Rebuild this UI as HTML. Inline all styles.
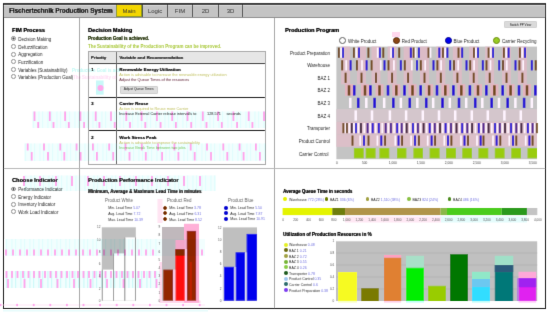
<!DOCTYPE html>
<html><head><meta charset="utf-8">
<style>
*{box-sizing:border-box;margin:0;padding:0}
html,body{width:550px;height:313px;overflow:hidden;background:#fff;font-family:"Liberation Sans",Arial,sans-serif;color:#222}
.a{position:absolute;white-space:nowrap;line-height:1}
.b{font-weight:bold}
#frame{position:absolute;left:3px;top:3px;width:543px;height:306px;border:1px solid #1a1a1a;border-top:2px solid #3a3a3a;border-bottom-width:1.4px;border-right-width:1.3px}
#hdr{position:absolute;left:4px;top:5px;width:541px;height:13px;background:#c4c4c4;border-top:1px solid #d8d8d8;border-bottom:1px solid #8e8e8e}
.tab{position:absolute;top:5px;height:12px;border-left:1px solid #444;text-align:center;font-size:6px;line-height:13.4px;color:#2a2a2a}
.vd{position:absolute;width:1px;background:#a8a8a8}
.hd{position:absolute;height:1px;background:#b8b8b8}
.h1{font-size:5.6px;font-weight:bold;color:#111;text-shadow:0.25px 0 0 currentColor}
.rad{position:absolute;width:4.8px;height:4.8px;border:0.7px solid #8a8a8a;border-radius:50%;background:#fff}
.rad i{position:absolute;left:0;top:0;width:100%;height:100%;border-radius:50%;background:radial-gradient(circle,#333 0,#333 0.85px,transparent 1.2px)}
.rt{font-size:4.5px;color:#262626}
.sb{font-size:4.45px;font-weight:bold;text-shadow:0.3px 0 0 currentColor}
.tx{font-size:3.87px}
.cell{position:absolute}
.ax{font-size:3.2px;color:#444}
.st{font-size:3.5px;color:#2a2a2a}
</style></head><body><svg width="0" height="0" style="position:absolute"><filter id="sf" x="0" y="0" width="550" height="313" filterUnits="userSpaceOnUse"><feConvolveMatrix order="3" kernelMatrix="0 1 0 1 8 1 0 1 0" divisor="12" edgeMode="duplicate"/></filter></svg><div style="position:absolute;left:0;top:0;width:550px;height:313px;filter:url(#sf)">
<div id="frame"></div>
<div id="hdr"></div>
<div class="a b" style="left:9px;top:7.5px;font-size:6.3px;color:#111;text-shadow:0.2px 0 0 #111">Fischertechnik Production System</div>
<div class="tab" style="left:116px;width:26px;background:#f3d600;border:1px solid #8a9a10;border-top:none">Main</div>
<div class="tab" style="left:142px;width:25px">Logic</div>
<div class="tab" style="left:167px;width:25px">FIM</div>
<div class="tab" style="left:192px;width:26px">2D</div>
<div class="tab" style="left:218px;width:25px;border-right:1px solid #444">3D</div>

<!-- dividers -->
<div class="vd" style="left:79px;top:18px;height:290px"></div>
<div class="vd" style="left:274px;top:18px;height:290px"></div>
<div class="hd" style="left:4px;top:168px;width:541px"></div>

<!-- FIM Process -->
<div class="a h1" style="left:12px;top:28.00px">FIM Process</div>

<div class="rad" style="left:11.20px;top:36.40px"><i></i></div><div class="a rt" style="left:18.2px;top:38px">Decision Making</div>
<div class="rad" style="left:11.20px;top:44.20px"></div><div class="a rt" style="left:18.2px;top:46px">Defuzzification</div>
<div class="rad" style="left:11.20px;top:51.90px"></div><div class="a rt" style="left:18.2px;top:53px">Aggregation</div>
<div class="rad" style="left:11.20px;top:59.40px"></div><div class="a rt" style="left:18.2px;top:61px">Fuzzification</div>
<div class="rad" style="left:11.20px;top:67.10px"></div><div class="a rt" style="left:18.2px;top:69px">Variables (Sustainability)</div>
<div class="rad" style="left:11.20px;top:74.40px"></div><div class="a rt" style="left:18.2px;top:76px">Variables (Production Goal)</div>
<div class="rad" style="left:11.20px;top:186.60px"><i></i></div><div class="a rt" style="left:18.2px;top:188px">Performance Indicator</div>
<div class="rad" style="left:11.20px;top:194.10px"></div><div class="a rt" style="left:18.2px;top:196px">Energy Indicator</div>
<div class="rad" style="left:11.20px;top:201.80px"></div><div class="a rt" style="left:18.2px;top:203px">Inventory Indicator</div>
<div class="rad" style="left:11.20px;top:209.20px"></div><div class="a rt" style="left:18.2px;top:211px">Work Load Indicator</div>
<!-- Decision making -->
<div class="a h1" style="left:88px;top:28px">Decision Making</div>
<div class="a sb" style="left:88px;top:36.6px;color:#2c3a14">Production Goal is achieved.</div>
<div class="a sb" style="left:88px;top:44.9px;color:#a8c838;text-shadow:none">The Sustainability of the Production Program can be improved.</div>
<!-- table -->
<div style="position:absolute;left:87.5px;top:51.3px;width:178.4px;height:114px;border:1px solid #a8a8a8"></div>
<div style="position:absolute;left:88.5px;top:52.3px;width:176.4px;height:10.7px;background:#e6e6e6"></div>
<div style="position:absolute;left:88.5px;top:62.8px;width:176.4px;height:1px;background:#222"></div>
<div style="position:absolute;left:88.5px;top:96.8px;width:176.4px;height:1px;background:#222"></div>
<div style="position:absolute;left:88.5px;top:130.2px;width:176.4px;height:1px;background:#222"></div>
<div style="position:absolute;left:115.8px;top:52.3px;width:0.9px;height:112px;background:#666"></div>
<div class="a sb" style="left:90.8px;top:56px;font-size:4.4px">Priority</div>
<div class="a sb" style="left:119.3px;top:56px;font-size:4.4px">Variable and Recommendation</div>
<div class="a sb" style="left:91px;top:67.60px;font-size:4.4px">1</div>
<div class="a sb" style="left:119.3px;top:67.60px;font-size:4.4px">Renewable Energy Utilization</div>
<div class="a tx" style="left:119.3px;top:73.20px;color:#c2c264">Action is advisable to increase the renewable energy utilization</div>
<div class="a tx" style="left:119.3px;top:77.9px;color:#5a1830">Adjust the Queue Times of the resources</div>
<div style="position:absolute;left:119.7px;top:86.4px;width:38px;height:7.2px;background:#dedede;border:0.6px solid #cfcfcf;border-radius:1px;font-size:3.3px;line-height:5.8px;text-align:center;color:#111">Adjust Queue Times</div>
<div class="a sb" style="left:91px;top:101.90px;font-size:4.4px">3</div>
<div class="a sb" style="left:119.3px;top:101.90px;font-size:4.4px">Carrier Reuse</div>
<div class="a tx" style="left:119.3px;top:107.2px;color:#c2c264">Action is required to Reuse more Carrier</div>
<div class="a tx" style="left:119.3px;top:112px;color:#222">Increase External Carrier release intervalls to</div>
<div class="a tx" style="left:207px;top:112.4px;color:#222">128.571</div>
<div class="a tx" style="left:226.4px;top:112.4px;color:#222">seconds</div>
<div class="a sb" style="left:91px;top:136.3px;font-size:4.4px">2</div>
<div class="a sb" style="left:119.3px;top:136.3px;font-size:4.4px">Work Stress Peak</div>
<div class="a tx" style="left:119.3px;top:141.4px;color:#c2c264">Action is advisable to improve the sustainability</div>
<div class="a tx" style="left:119.3px;top:145.8px;color:#84c860">Increase Break Time between two jobs</div>

<!-- Production program -->
<div class="a h1" style="left:285px;top:28px">Production Program</div>
<div style="position:absolute;left:504px;top:21px;width:33px;height:7px;background:#dadada;border:0.6px solid #d2d2d2;border-radius:1px;font-size:3.1px;line-height:6px;text-align:center;color:#111">Switch PP View</div>
<div style="position:absolute;left:338.9px;top:36.9px;width:7px;height:7px;border-radius:50%;border:0.8px solid #555;background:#fff"></div>
<div class="a rt" style="left:348px;top:40.3px">White Product</div>
<div style="position:absolute;left:392.5px;top:36.9px;width:7px;height:7px;border-radius:50%;border:0.8px solid #5a2a08;background:#8b4513"></div>
<div class="a rt" style="left:401.8px;top:40.3px">Red Product</div>
<div style="position:absolute;left:444.9px;top:36.9px;width:7px;height:7px;border-radius:50%;border:0.8px solid #00008b;background:#0000ee"></div>
<div class="a rt" style="left:453.6px;top:40.3px">Blue Product</div>
<div style="position:absolute;left:492.9px;top:36.9px;width:7px;height:7px;border-radius:50%;border:0.8px solid #6a8a10;background:#99cc22"></div>
<div class="a rt" style="left:502px;top:40.3px">Carrier Recycling</div>
<div class="a rt" style="right:220px;top:51.50px;text-align:right">Product Preparation</div>
<div class="a rt" style="right:220px;top:64.06px">Warehouse</div>
<div class="a rt" style="right:220px;top:76.62px">BAZ 1</div>
<div class="a rt" style="right:220px;top:89.18px">BAZ 2</div>
<div class="a rt" style="right:220px;top:101.74px">BAZ 3</div>
<div class="a rt" style="right:220px;top:115.30px">BAZ 4</div>
<div class="a rt" style="right:220px;top:126.86px">Transporter</div>
<div class="a rt" style="right:220px;top:140.42px">Product Control</div>
<div class="a rt" style="right:221.5px;top:152.98px">Carrier Control</div>
<svg style="position:absolute;left:0;top:0" width="550" height="313" viewBox="0 0 550 313">
<rect x="336.4" y="46.6" width="200.6" height="112.6" fill="#c4c4c4"/>
<rect x="336.4" y="109.2" width="200.6" height="12.56" fill="#d4c6cc"/>
<rect x="336.4" y="121.8" width="200.6" height="12.56" fill="#dcbfc8"/>
<rect x="336.4" y="134.3" width="200.6" height="12.56" fill="#dcbfc8"/>
<rect x="341.1" y="46.6" width="9" height="37.7" fill="#dcbcc6"/>
<rect x="357.0" y="46.6" width="9" height="37.7" fill="#dcbcc6"/>
<rect x="371.5" y="46.6" width="9" height="37.7" fill="#dcbcc6"/>
<rect x="387.6" y="46.6" width="9" height="37.7" fill="#dcbcc6"/>
<rect x="403.6" y="46.6" width="9" height="37.7" fill="#dcbcc6"/>
<rect x="420.0" y="46.6" width="9" height="37.7" fill="#dcbcc6"/>
<rect x="436.3" y="46.6" width="9" height="37.7" fill="#dcbcc6"/>
<rect x="452.9" y="46.6" width="9" height="37.7" fill="#dcbcc6"/>
<rect x="469.2" y="46.6" width="9" height="37.7" fill="#dcbcc6"/>
<rect x="485.2" y="46.6" width="9" height="37.7" fill="#dcbcc6"/>
<rect x="502.0" y="46.6" width="9" height="37.7" fill="#dcbcc6"/>
<rect x="517.9" y="46.6" width="9" height="37.7" fill="#dcbcc6"/>
<rect x="345.0" y="84.1" width="8" height="11.7" fill="#e4b4c0"/>
<rect x="361.0" y="84.1" width="8" height="11.7" fill="#e4b4c0"/>
<rect x="375.5" y="84.1" width="8" height="11.7" fill="#e4b4c0"/>
<rect x="392.3" y="84.1" width="8" height="11.7" fill="#e4b4c0"/>
<rect x="408.5" y="84.1" width="8" height="11.7" fill="#e4b4c0"/>
<rect x="425.1" y="84.1" width="8" height="11.7" fill="#e4b4c0"/>
<rect x="441.3" y="84.1" width="8" height="11.7" fill="#e4b4c0"/>
<rect x="457.3" y="84.1" width="8" height="11.7" fill="#e4b4c0"/>
<rect x="474.0" y="84.1" width="8" height="11.7" fill="#e4b4c0"/>
<rect x="490.4" y="84.1" width="8" height="11.7" fill="#e4b4c0"/>
<rect x="506.6" y="84.1" width="8" height="11.7" fill="#e4b4c0"/>
<rect x="523.0" y="84.1" width="8" height="11.7" fill="#e4b4c0"/>
<rect x="337.95" y="47.6" width="1.9" height="10.2" fill="#6e4616"/>
<rect x="352.95" y="47.6" width="1.9" height="10.2" fill="#6e4616"/>
<rect x="367.45" y="47.6" width="1.9" height="10.2" fill="#6e4616"/>
<rect x="382.35" y="47.6" width="1.9" height="10.2" fill="#6e4616"/>
<rect x="398.25" y="47.6" width="1.9" height="10.2" fill="#6e4616"/>
<rect x="412.75" y="47.6" width="1.9" height="10.2" fill="#6e4616"/>
<rect x="427.55" y="47.6" width="1.9" height="10.2" fill="#6e4616"/>
<rect x="442.05" y="47.6" width="1.9" height="10.2" fill="#6e4616"/>
<rect x="457.55" y="47.6" width="1.9" height="10.2" fill="#6e4616"/>
<rect x="473.05" y="47.6" width="1.9" height="10.2" fill="#6e4616"/>
<rect x="487.65" y="47.6" width="1.9" height="10.2" fill="#6e4616"/>
<rect x="502.95" y="47.6" width="1.9" height="10.2" fill="#6e4616"/>
<rect x="518.95" y="47.6" width="1.9" height="10.2" fill="#6e4616"/>
<rect x="342.05" y="47.6" width="1.9" height="10.2" fill="#1a00d4"/>
<rect x="358.05" y="47.6" width="1.9" height="10.2" fill="#1a00d4"/>
<rect x="378.85" y="47.6" width="1.9" height="10.2" fill="#1a00d4"/>
<rect x="392.05" y="47.6" width="1.9" height="10.2" fill="#1a00d4"/>
<rect x="409.85" y="47.6" width="1.9" height="10.2" fill="#1a00d4"/>
<rect x="417.95" y="47.6" width="1.9" height="10.2" fill="#1a00d4"/>
<rect x="438.35" y="47.6" width="1.9" height="10.2" fill="#1a00d4"/>
<rect x="446.45" y="47.6" width="1.9" height="10.2" fill="#1a00d4"/>
<rect x="461.25" y="47.6" width="1.9" height="10.2" fill="#1a00d4"/>
<rect x="477.05" y="47.6" width="1.9" height="10.2" fill="#1a00d4"/>
<rect x="492.05" y="47.6" width="1.9" height="10.2" fill="#1a00d4"/>
<rect x="507.65" y="47.6" width="1.9" height="10.2" fill="#1a00d4"/>
<rect x="524.05" y="47.6" width="1.9" height="10.2" fill="#1a00d4"/>
<rect x="340.15" y="47.6" width="1.7" height="10.2" fill="#fff4ff"/>
<rect x="355.45" y="47.6" width="1.7" height="10.2" fill="#fff4ff"/>
<rect x="376.85" y="47.6" width="1.7" height="10.2" fill="#fff4ff"/>
<rect x="390.15" y="47.6" width="1.7" height="10.2" fill="#fff4ff"/>
<rect x="414.75" y="47.6" width="1.7" height="10.2" fill="#fff4ff"/>
<rect x="429.65" y="47.6" width="1.7" height="10.2" fill="#fff4ff"/>
<rect x="444.35" y="47.6" width="1.7" height="10.2" fill="#fff4ff"/>
<rect x="475.05" y="47.6" width="1.7" height="10.2" fill="#fff4ff"/>
<rect x="489.85" y="47.6" width="1.7" height="10.2" fill="#fff4ff"/>
<rect x="505.35" y="47.6" width="1.7" height="10.2" fill="#fff4ff"/>
<rect x="521.35" y="47.6" width="1.7" height="10.2" fill="#fff4ff"/>
<rect x="341.25" y="60.2" width="1.9" height="10.2" fill="#6e4616"/>
<rect x="355.95" y="60.2" width="1.9" height="10.2" fill="#6e4616"/>
<rect x="370.65" y="60.2" width="1.9" height="10.2" fill="#6e4616"/>
<rect x="387.55" y="60.2" width="1.9" height="10.2" fill="#6e4616"/>
<rect x="403.85" y="60.2" width="1.9" height="10.2" fill="#6e4616"/>
<rect x="419.85" y="60.2" width="1.9" height="10.2" fill="#6e4616"/>
<rect x="436.45" y="60.2" width="1.9" height="10.2" fill="#6e4616"/>
<rect x="453.05" y="60.2" width="1.9" height="10.2" fill="#6e4616"/>
<rect x="469.25" y="60.2" width="1.9" height="10.2" fill="#6e4616"/>
<rect x="485.55" y="60.2" width="1.9" height="10.2" fill="#6e4616"/>
<rect x="502.05" y="60.2" width="1.9" height="10.2" fill="#6e4616"/>
<rect x="518.45" y="60.2" width="1.9" height="10.2" fill="#6e4616"/>
<rect x="534.75" y="60.2" width="1.9" height="10.2" fill="#6e4616"/>
<rect x="345.35" y="60.2" width="1.7" height="10.2" fill="#fff4ff"/>
<rect x="361.15" y="60.2" width="1.7" height="10.2" fill="#fff4ff"/>
<rect x="379.95" y="60.2" width="1.7" height="10.2" fill="#fff4ff"/>
<rect x="393.05" y="60.2" width="1.7" height="10.2" fill="#fff4ff"/>
<rect x="410.95" y="60.2" width="1.7" height="10.2" fill="#fff4ff"/>
<rect x="424.35" y="60.2" width="1.7" height="10.2" fill="#fff4ff"/>
<rect x="440.25" y="60.2" width="1.7" height="10.2" fill="#fff4ff"/>
<rect x="457.35" y="60.2" width="1.7" height="10.2" fill="#fff4ff"/>
<rect x="473.25" y="60.2" width="1.7" height="10.2" fill="#fff4ff"/>
<rect x="489.65" y="60.2" width="1.7" height="10.2" fill="#fff4ff"/>
<rect x="505.95" y="60.2" width="1.7" height="10.2" fill="#fff4ff"/>
<rect x="522.35" y="60.2" width="1.7" height="10.2" fill="#fff4ff"/>
<rect x="349.65" y="60.2" width="1.9" height="10.2" fill="#1a00d4"/>
<rect x="365.65" y="60.2" width="1.9" height="10.2" fill="#1a00d4"/>
<rect x="383.55" y="60.2" width="1.9" height="10.2" fill="#1a00d4"/>
<rect x="399.85" y="60.2" width="1.9" height="10.2" fill="#1a00d4"/>
<rect x="416.05" y="60.2" width="1.9" height="10.2" fill="#1a00d4"/>
<rect x="432.55" y="60.2" width="1.9" height="10.2" fill="#1a00d4"/>
<rect x="449.25" y="60.2" width="1.9" height="10.2" fill="#1a00d4"/>
<rect x="465.55" y="60.2" width="1.9" height="10.2" fill="#1a00d4"/>
<rect x="481.85" y="60.2" width="1.9" height="10.2" fill="#1a00d4"/>
<rect x="498.25" y="60.2" width="1.9" height="10.2" fill="#1a00d4"/>
<rect x="514.55" y="60.2" width="1.9" height="10.2" fill="#1a00d4"/>
<rect x="530.85" y="60.2" width="1.9" height="10.2" fill="#1a00d4"/>
<rect x="344.65" y="72.7" width="1.9" height="10.2" fill="#6e4616"/>
<rect x="360.55" y="72.7" width="1.9" height="10.2" fill="#6e4616"/>
<rect x="375.05" y="72.7" width="1.9" height="10.2" fill="#6e4616"/>
<rect x="391.15" y="72.7" width="1.9" height="10.2" fill="#6e4616"/>
<rect x="407.15" y="72.7" width="1.9" height="10.2" fill="#6e4616"/>
<rect x="423.55" y="72.7" width="1.9" height="10.2" fill="#6e4616"/>
<rect x="439.85" y="72.7" width="1.9" height="10.2" fill="#6e4616"/>
<rect x="456.45" y="72.7" width="1.9" height="10.2" fill="#6e4616"/>
<rect x="472.75" y="72.7" width="1.9" height="10.2" fill="#6e4616"/>
<rect x="488.75" y="72.7" width="1.9" height="10.2" fill="#6e4616"/>
<rect x="505.55" y="72.7" width="1.9" height="10.2" fill="#6e4616"/>
<rect x="521.45" y="72.7" width="1.9" height="10.2" fill="#6e4616"/>
<rect x="347.75" y="85.3" width="2.5" height="10.2" fill="#6e4616"/>
<rect x="363.75" y="85.3" width="2.5" height="10.2" fill="#6e4616"/>
<rect x="378.25" y="85.3" width="2.5" height="10.2" fill="#6e4616"/>
<rect x="395.05" y="85.3" width="2.5" height="10.2" fill="#6e4616"/>
<rect x="411.25" y="85.3" width="2.5" height="10.2" fill="#6e4616"/>
<rect x="427.85" y="85.3" width="2.5" height="10.2" fill="#6e4616"/>
<rect x="444.05" y="85.3" width="2.5" height="10.2" fill="#6e4616"/>
<rect x="460.05" y="85.3" width="2.5" height="10.2" fill="#6e4616"/>
<rect x="476.75" y="85.3" width="2.5" height="10.2" fill="#6e4616"/>
<rect x="493.15" y="85.3" width="2.5" height="10.2" fill="#6e4616"/>
<rect x="509.35" y="85.3" width="2.5" height="10.2" fill="#6e4616"/>
<rect x="525.75" y="85.3" width="2.5" height="10.2" fill="#6e4616"/>
<rect x="352.95" y="85.3" width="2.5" height="10.2" fill="#1a00d4"/>
<rect x="369.15" y="85.3" width="2.5" height="10.2" fill="#1a00d4"/>
<rect x="386.75" y="85.3" width="2.5" height="10.2" fill="#1a00d4"/>
<rect x="403.25" y="85.3" width="2.5" height="10.2" fill="#1a00d4"/>
<rect x="419.45" y="85.3" width="2.5" height="10.2" fill="#1a00d4"/>
<rect x="435.75" y="85.3" width="2.5" height="10.2" fill="#1a00d4"/>
<rect x="452.15" y="85.3" width="2.5" height="10.2" fill="#1a00d4"/>
<rect x="468.65" y="85.3" width="2.5" height="10.2" fill="#1a00d4"/>
<rect x="485.05" y="85.3" width="2.5" height="10.2" fill="#1a00d4"/>
<rect x="501.45" y="85.3" width="2.5" height="10.2" fill="#1a00d4"/>
<rect x="517.75" y="85.3" width="2.5" height="10.2" fill="#1a00d4"/>
<rect x="534.05" y="85.3" width="2.5" height="10.2" fill="#1a00d4"/>
<rect x="349.05" y="97.8" width="2.5" height="10.2" fill="#fff4ff"/>
<rect x="365.05" y="97.8" width="2.5" height="10.2" fill="#fff4ff"/>
<rect x="382.95" y="97.8" width="2.5" height="10.2" fill="#fff4ff"/>
<rect x="399.65" y="97.8" width="2.5" height="10.2" fill="#fff4ff"/>
<rect x="416.05" y="97.8" width="2.5" height="10.2" fill="#fff4ff"/>
<rect x="431.95" y="97.8" width="2.5" height="10.2" fill="#fff4ff"/>
<rect x="448.55" y="97.8" width="2.5" height="10.2" fill="#fff4ff"/>
<rect x="464.95" y="97.8" width="2.5" height="10.2" fill="#fff4ff"/>
<rect x="481.05" y="97.8" width="2.5" height="10.2" fill="#fff4ff"/>
<rect x="497.75" y="97.8" width="2.5" height="10.2" fill="#fff4ff"/>
<rect x="514.15" y="97.8" width="2.5" height="10.2" fill="#fff4ff"/>
<rect x="530.55" y="97.8" width="2.5" height="10.2" fill="#fff4ff"/>
<rect x="356.95" y="97.8" width="2.5" height="10.2" fill="#1a00d4"/>
<rect x="373.35" y="97.8" width="2.5" height="10.2" fill="#1a00d4"/>
<rect x="392.05" y="97.8" width="2.5" height="10.2" fill="#1a00d4"/>
<rect x="408.55" y="97.8" width="2.5" height="10.2" fill="#1a00d4"/>
<rect x="424.95" y="97.8" width="2.5" height="10.2" fill="#1a00d4"/>
<rect x="441.25" y="97.8" width="2.5" height="10.2" fill="#1a00d4"/>
<rect x="457.75" y="97.8" width="2.5" height="10.2" fill="#1a00d4"/>
<rect x="473.95" y="97.8" width="2.5" height="10.2" fill="#1a00d4"/>
<rect x="490.45" y="97.8" width="2.5" height="10.2" fill="#1a00d4"/>
<rect x="506.45" y="97.8" width="2.5" height="10.2" fill="#1a00d4"/>
<rect x="522.85" y="97.8" width="2.5" height="10.2" fill="#1a00d4"/>
<rect x="354.45" y="110.4" width="2.5" height="10.2" fill="#fff4ff"/>
<rect x="370.75" y="110.4" width="2.5" height="10.2" fill="#fff4ff"/>
<rect x="388.65" y="110.4" width="2.5" height="10.2" fill="#fff4ff"/>
<rect x="404.85" y="110.4" width="2.5" height="10.2" fill="#fff4ff"/>
<rect x="421.55" y="110.4" width="2.5" height="10.2" fill="#fff4ff"/>
<rect x="437.75" y="110.4" width="2.5" height="10.2" fill="#fff4ff"/>
<rect x="453.95" y="110.4" width="2.5" height="10.2" fill="#fff4ff"/>
<rect x="470.55" y="110.4" width="2.5" height="10.2" fill="#fff4ff"/>
<rect x="486.55" y="110.4" width="2.5" height="10.2" fill="#fff4ff"/>
<rect x="503.15" y="110.4" width="2.5" height="10.2" fill="#fff4ff"/>
<rect x="519.55" y="110.4" width="2.5" height="10.2" fill="#fff4ff"/>
<rect x="344.30" y="123.0" width="1.7" height="10.2" fill="#fff4ff"/>
<rect x="348.50" y="123.0" width="1.7" height="10.2" fill="#fff4ff"/>
<rect x="353.05" y="123.0" width="1.7" height="10.2" fill="#fff4ff"/>
<rect x="357.60" y="123.0" width="1.7" height="10.2" fill="#fff4ff"/>
<rect x="363.40" y="123.0" width="1.7" height="10.2" fill="#fff4ff"/>
<rect x="369.30" y="123.0" width="1.7" height="10.2" fill="#fff4ff"/>
<rect x="374.90" y="123.0" width="1.7" height="10.2" fill="#fff4ff"/>
<rect x="381.40" y="123.0" width="1.7" height="10.2" fill="#fff4ff"/>
<rect x="387.45" y="123.0" width="1.7" height="10.2" fill="#fff4ff"/>
<rect x="393.20" y="123.0" width="1.7" height="10.2" fill="#fff4ff"/>
<rect x="398.60" y="123.0" width="1.7" height="10.2" fill="#fff4ff"/>
<rect x="403.35" y="123.0" width="1.7" height="10.2" fill="#fff4ff"/>
<rect x="409.00" y="123.0" width="1.7" height="10.2" fill="#fff4ff"/>
<rect x="414.60" y="123.0" width="1.7" height="10.2" fill="#fff4ff"/>
<rect x="419.90" y="123.0" width="1.7" height="10.2" fill="#fff4ff"/>
<rect x="425.80" y="123.0" width="1.7" height="10.2" fill="#fff4ff"/>
<rect x="431.40" y="123.0" width="1.7" height="10.2" fill="#fff4ff"/>
<rect x="436.55" y="123.0" width="1.7" height="10.2" fill="#fff4ff"/>
<rect x="441.95" y="123.0" width="1.7" height="10.2" fill="#fff4ff"/>
<rect x="447.45" y="123.0" width="1.7" height="10.2" fill="#fff4ff"/>
<rect x="452.90" y="123.0" width="1.7" height="10.2" fill="#fff4ff"/>
<rect x="458.50" y="123.0" width="1.7" height="10.2" fill="#fff4ff"/>
<rect x="463.90" y="123.0" width="1.7" height="10.2" fill="#fff4ff"/>
<rect x="468.85" y="123.0" width="1.7" height="10.2" fill="#fff4ff"/>
<rect x="474.60" y="123.0" width="1.7" height="10.2" fill="#fff4ff"/>
<rect x="480.30" y="123.0" width="1.7" height="10.2" fill="#fff4ff"/>
<rect x="485.20" y="123.0" width="1.7" height="10.2" fill="#fff4ff"/>
<rect x="491.00" y="123.0" width="1.7" height="10.2" fill="#fff4ff"/>
<rect x="496.60" y="123.0" width="1.7" height="10.2" fill="#fff4ff"/>
<rect x="501.55" y="123.0" width="1.7" height="10.2" fill="#fff4ff"/>
<rect x="507.20" y="123.0" width="1.7" height="10.2" fill="#fff4ff"/>
<rect x="512.85" y="123.0" width="1.7" height="10.2" fill="#fff4ff"/>
<rect x="518.00" y="123.0" width="1.7" height="10.2" fill="#fff4ff"/>
<rect x="523.80" y="123.0" width="1.7" height="10.2" fill="#fff4ff"/>
<rect x="529.40" y="123.0" width="1.7" height="10.2" fill="#fff4ff"/>
<rect x="533.85" y="123.0" width="1.7" height="10.2" fill="#fff4ff"/>
<rect x="342.45" y="123.0" width="1.9" height="10.2" fill="#6e4616"/>
<rect x="345.95" y="123.0" width="1.9" height="10.2" fill="#6e4616"/>
<rect x="350.85" y="123.0" width="1.9" height="10.2" fill="#3c1c3c"/>
<rect x="355.05" y="123.0" width="1.9" height="10.2" fill="#1a00d4"/>
<rect x="359.95" y="123.0" width="1.9" height="10.2" fill="#3c1c3c"/>
<rect x="366.65" y="123.0" width="1.9" height="10.2" fill="#4a1890"/>
<rect x="371.75" y="123.0" width="1.9" height="10.2" fill="#1a00d4"/>
<rect x="377.85" y="123.0" width="1.9" height="10.2" fill="#1a00d4"/>
<rect x="384.75" y="123.0" width="1.9" height="10.2" fill="#4a1890"/>
<rect x="389.95" y="123.0" width="1.9" height="10.2" fill="#4a1890"/>
<rect x="396.25" y="123.0" width="1.9" height="10.2" fill="#1a00d4"/>
<rect x="400.75" y="123.0" width="1.9" height="10.2" fill="#4a1890"/>
<rect x="405.75" y="123.0" width="1.9" height="10.2" fill="#3c1c3c"/>
<rect x="412.05" y="123.0" width="1.9" height="10.2" fill="#1a00d4"/>
<rect x="416.95" y="123.0" width="1.9" height="10.2" fill="#4a1890"/>
<rect x="422.65" y="123.0" width="1.9" height="10.2" fill="#3c1c3c"/>
<rect x="428.75" y="123.0" width="1.9" height="10.2" fill="#1a00d4"/>
<rect x="433.85" y="123.0" width="1.9" height="10.2" fill="#4a1890"/>
<rect x="439.05" y="123.0" width="1.9" height="10.2" fill="#3c1c3c"/>
<rect x="444.65" y="123.0" width="1.9" height="10.2" fill="#1a00d4"/>
<rect x="450.05" y="123.0" width="1.9" height="10.2" fill="#4a1890"/>
<rect x="455.55" y="123.0" width="1.9" height="10.2" fill="#3c1c3c"/>
<rect x="461.25" y="123.0" width="1.9" height="10.2" fill="#1a00d4"/>
<rect x="466.35" y="123.0" width="1.9" height="10.2" fill="#4a1890"/>
<rect x="471.15" y="123.0" width="1.9" height="10.2" fill="#3c1c3c"/>
<rect x="477.85" y="123.0" width="1.9" height="10.2" fill="#1a00d4"/>
<rect x="482.55" y="123.0" width="1.9" height="10.2" fill="#4a1890"/>
<rect x="487.65" y="123.0" width="1.9" height="10.2" fill="#3c1c3c"/>
<rect x="494.15" y="123.0" width="1.9" height="10.2" fill="#1a00d4"/>
<rect x="498.85" y="123.0" width="1.9" height="10.2" fill="#4a1890"/>
<rect x="504.05" y="123.0" width="1.9" height="10.2" fill="#3c1c3c"/>
<rect x="510.15" y="123.0" width="1.9" height="10.2" fill="#1a00d4"/>
<rect x="515.35" y="123.0" width="1.9" height="10.2" fill="#4a1890"/>
<rect x="520.45" y="123.0" width="1.9" height="10.2" fill="#3c1c3c"/>
<rect x="526.95" y="123.0" width="1.9" height="10.2" fill="#1a00d4"/>
<rect x="531.65" y="123.0" width="1.9" height="10.2" fill="#4a1890"/>
<rect x="535.85" y="123.0" width="1.9" height="10.2" fill="#6e4616"/>
<rect x="351.55" y="135.5" width="1.9" height="10.2" fill="#6e4616"/>
<rect x="367.55" y="135.5" width="1.9" height="10.2" fill="#6e4616"/>
<rect x="384.15" y="135.5" width="1.9" height="10.2" fill="#6e4616"/>
<rect x="401.15" y="135.5" width="1.9" height="10.2" fill="#6e4616"/>
<rect x="417.95" y="135.5" width="1.9" height="10.2" fill="#6e4616"/>
<rect x="434.15" y="135.5" width="1.9" height="10.2" fill="#6e4616"/>
<rect x="450.45" y="135.5" width="1.9" height="10.2" fill="#6e4616"/>
<rect x="467.05" y="135.5" width="1.9" height="10.2" fill="#6e4616"/>
<rect x="482.55" y="135.5" width="1.9" height="10.2" fill="#6e4616"/>
<rect x="499.35" y="135.5" width="1.9" height="10.2" fill="#6e4616"/>
<rect x="515.35" y="135.5" width="1.9" height="10.2" fill="#6e4616"/>
<rect x="531.65" y="135.5" width="1.9" height="10.2" fill="#6e4616"/>
<rect x="359.35" y="135.5" width="1.7" height="10.2" fill="#fff4ff"/>
<rect x="376.55" y="135.5" width="1.7" height="10.2" fill="#fff4ff"/>
<rect x="394.45" y="135.5" width="1.7" height="10.2" fill="#fff4ff"/>
<rect x="410.25" y="135.5" width="1.7" height="10.2" fill="#fff4ff"/>
<rect x="426.85" y="135.5" width="1.7" height="10.2" fill="#fff4ff"/>
<rect x="443.45" y="135.5" width="1.7" height="10.2" fill="#fff4ff"/>
<rect x="460.15" y="135.5" width="1.7" height="10.2" fill="#fff4ff"/>
<rect x="476.15" y="135.5" width="1.7" height="10.2" fill="#fff4ff"/>
<rect x="492.15" y="135.5" width="1.7" height="10.2" fill="#fff4ff"/>
<rect x="508.45" y="135.5" width="1.7" height="10.2" fill="#fff4ff"/>
<rect x="524.85" y="135.5" width="1.7" height="10.2" fill="#fff4ff"/>
<rect x="363.05" y="135.5" width="1.9" height="10.2" fill="#1a00d4"/>
<rect x="380.35" y="135.5" width="1.9" height="10.2" fill="#1a00d4"/>
<rect x="397.55" y="135.5" width="1.9" height="10.2" fill="#1a00d4"/>
<rect x="414.05" y="135.5" width="1.9" height="10.2" fill="#1a00d4"/>
<rect x="430.65" y="135.5" width="1.9" height="10.2" fill="#1a00d4"/>
<rect x="447.05" y="135.5" width="1.9" height="10.2" fill="#1a00d4"/>
<rect x="463.55" y="135.5" width="1.9" height="10.2" fill="#1a00d4"/>
<rect x="479.65" y="135.5" width="1.9" height="10.2" fill="#1a00d4"/>
<rect x="495.65" y="135.5" width="1.9" height="10.2" fill="#1a00d4"/>
<rect x="512.05" y="135.5" width="1.9" height="10.2" fill="#1a00d4"/>
<rect x="528.45" y="135.5" width="1.9" height="10.2" fill="#1a00d4"/>
<rect x="353.9" y="148.1" width="9.8" height="10.2" fill="#99cc11"/>
<rect x="365.7" y="148.1" width="9.9" height="10.2" fill="#99cc11"/>
<rect x="379.4" y="148.1" width="9.9" height="10.2" fill="#99cc11"/>
<rect x="397.0" y="148.1" width="9.4" height="10.2" fill="#99cc11"/>
<rect x="413.4" y="148.1" width="9.6" height="10.2" fill="#99cc11"/>
<rect x="429.6" y="148.1" width="10.0" height="10.2" fill="#99cc11"/>
<rect x="446.0" y="148.1" width="10.0" height="10.2" fill="#99cc11"/>
<rect x="462.3" y="148.1" width="9.7" height="10.2" fill="#99cc11"/>
<rect x="478.4" y="148.1" width="9.9" height="10.2" fill="#99cc11"/>
<rect x="494.8" y="148.1" width="9.8" height="10.2" fill="#99cc11"/>
<rect x="511.3" y="148.1" width="9.7" height="10.2" fill="#99cc11"/>
<rect x="527.5" y="148.1" width="9.5" height="10.2" fill="#99cc11"/>
</svg>
<div class="a ax" style="left:336px;top:162px">0</div>
<div class="a ax" style="left:361.9px;top:162px">500</div>
<div class="a ax" style="left:388.8px;top:162px">1,000</div>
<div class="a ax" style="left:416.8px;top:162px">1,500</div>
<div class="a ax" style="left:444.8px;top:162px">2,000</div>
<div class="a ax" style="left:472.8px;top:162px">2,500</div>
<div class="a ax" style="left:500.8px;top:162px">3,000</div>
<div class="a ax" style="left:528.8px;top:162px">3,500</div>

<!-- Choose Indicator -->
<div class="a h1" style="left:12px;top:177.5px">Choose Indicator</div>

<div class="a h1" style="left:88px;top:177.5px">Production Performance Indicator</div>
<div class="a h1" style="left:283px;top:190.00px;font-size:4.5px">Average Queue Time in seconds</div>
<div class="a h1" style="left:283px;top:233.00px;font-size:4.6px">Utilization of Production Resources in %</div>
<div class="a sb" style="left:88px;top:189.6px;font-size:4.5px">Minimum, Average &amp; Maximum Lead Time in minutes</div>
<div class="a" style="left:105px;top:199px;font-size:4.45px;color:#666">Product White</div>
<div class="a" style="left:166.9px;top:199px;font-size:4.45px;color:#666">Product Red</div>
<div class="a" style="left:228px;top:199px;font-size:4.45px;color:#666">Product Blue</div>
<div class="a st" style="left:108.3px;top:207.4px">Min. Lead Time <span style="color:#7070e0">5.07</span></div>
<div class="a st" style="left:108.3px;top:213.1px">Avg. Lead Time <span style="color:#7070e0">7.72</span></div>
<div class="a st" style="left:108.3px;top:218.6px">Max. Lead Time <span style="color:#7070e0">10.39</span></div>
<div class="a st" style="left:169.2px;top:207.1px">Min. Lead Time <span style="color:#7070e0">3.78</span></div>
<div class="a st" style="left:169.2px;top:212.9px">Avg. Lead Time <span style="color:#7070e0">6.31</span></div>
<div class="a st" style="left:169.2px;top:218.9px">Max. Lead Time <span style="color:#7070e0">8.52</span></div>
<div class="a st" style="left:230.3px;top:207.3px">Min. Lead Time <span style="color:#7070e0">5.50</span></div>
<div class="a st" style="left:230.3px;top:212.8px">Avg. Lead Time <span style="color:#7070e0">7.87</span></div>
<div class="a st" style="left:230.3px;top:218.2px">Max. Lead Time <span style="color:#7070e0">10.91</span></div>
<div style="position:absolute;left:163.3px;top:205.5px;width:4.2px;height:4.2px;border-radius:50%;background:#5a2000;border:0.6px solid #94400e"></div>
<div style="position:absolute;left:163.3px;top:211.3px;width:4.2px;height:4.2px;border-radius:50%;background:#5a2000;border:0.6px solid #94400e"></div>
<div style="position:absolute;left:163.3px;top:217.3px;width:4.2px;height:4.2px;border-radius:50%;background:#5a2000;border:0.6px solid #94400e"></div>
<div style="position:absolute;left:224.3px;top:205.8px;width:4.1px;height:4.1px;border-radius:50%;background:#0000d0"></div>
<div style="position:absolute;left:224.3px;top:211.2px;width:4.1px;height:4.1px;border-radius:50%;background:#0000d0"></div>
<div style="position:absolute;left:224.3px;top:216.6px;width:4.1px;height:4.1px;border-radius:50%;background:#0000d0"></div>
<svg style="position:absolute;left:0;top:0" width="550" height="313">
<rect x="157.5" y="199" width="5" height="24" fill="#ffe4f2"/>
<rect x="101.8" y="227.3" width="34.00" height="73.40" fill="#bfbfbf"/>
<text x="100.5" y="228.40" font-size="3.1" fill="#555" text-anchor="end">12</text>
<text x="100.5" y="240.63" font-size="3.1" fill="#555" text-anchor="end">10</text>
<text x="100.5" y="252.87" font-size="3.1" fill="#555" text-anchor="end">8</text>
<text x="100.5" y="265.10" font-size="3.1" fill="#555" text-anchor="end">6</text>
<text x="100.5" y="277.33" font-size="3.1" fill="#555" text-anchor="end">4</text>
<text x="100.5" y="289.57" font-size="3.1" fill="#555" text-anchor="end">2</text>
<text x="100.5" y="301.80" font-size="3.1" fill="#555" text-anchor="end">0</text>
<rect x="102.3" y="269.6" width="11.30" height="31.10" fill="#fff"/>
<rect x="101.85" y="269.6" width="0.9" height="31.10" fill="#959595"/>
<rect x="113.15" y="269.6" width="0.9" height="31.10" fill="#959595"/>
<rect x="113.6" y="253.4" width="11.30" height="47.30" fill="#fff"/>
<rect x="113.15" y="253.4" width="0.9" height="47.30" fill="#959595"/>
<rect x="124.45" y="253.4" width="0.9" height="47.30" fill="#959595"/>
<rect x="124.9" y="237.4" width="10.50" height="63.30" fill="#fff"/>
<rect x="124.45" y="237.4" width="0.9" height="63.30" fill="#959595"/>
<rect x="134.95" y="237.4" width="0.9" height="63.30" fill="#959595"/>
<rect x="159.5" y="262" width="3" height="41" fill="#ffd8ec"/>
<rect x="159.5" y="300.5" width="41" height="2.5" fill="#ffd8ec"/>
<rect x="162" y="227" width="22.5" height="73.7" fill="#c0b8bc"/>
<rect x="184" y="223.8" width="15" height="79" fill="#ffb0d8"/>
<rect x="175.5" y="240" width="9" height="10" fill="#ffa8cc"/>
<text x="160.3" y="228.20" font-size="3.1" fill="#555" text-anchor="end">9</text>
<text x="160.3" y="236.38" font-size="3.1" fill="#555" text-anchor="end">8</text>
<text x="160.3" y="244.56" font-size="3.1" fill="#555" text-anchor="end">7</text>
<text x="160.3" y="252.73" font-size="3.1" fill="#555" text-anchor="end">6</text>
<text x="160.3" y="260.91" font-size="3.1" fill="#555" text-anchor="end">5</text>
<text x="160.3" y="269.09" font-size="3.1" fill="#555" text-anchor="end">4</text>
<text x="160.3" y="277.27" font-size="3.1" fill="#555" text-anchor="end">3</text>
<text x="160.3" y="285.44" font-size="3.1" fill="#555" text-anchor="end">2</text>
<text x="160.3" y="293.62" font-size="3.1" fill="#555" text-anchor="end">1</text>
<text x="160.3" y="301.80" font-size="3.1" fill="#555" text-anchor="end">0</text>
<rect x="163.3" y="269.6" width="9.8" height="31.1" fill="#922800"/>
<rect x="175.4" y="249.1" width="9.4" height="51.6" fill="#ff0808"/>
<rect x="175.4" y="249.1" width="9.4" height="6.5" fill="#8a2a00"/>
<rect x="186.8" y="230.9" width="9.3" height="69.8" fill="#962800"/>
<rect x="189.8" y="262" width="2" height="38" fill="#c02000"/>
<rect x="222.9" y="227.4" width="34.10" height="73.30" fill="#bfbfbf"/>
<text x="221.5" y="228.50" font-size="3.1" fill="#555" text-anchor="end">12</text>
<text x="221.5" y="240.72" font-size="3.1" fill="#555" text-anchor="end">10</text>
<text x="221.5" y="252.93" font-size="3.1" fill="#555" text-anchor="end">8</text>
<text x="221.5" y="265.15" font-size="3.1" fill="#555" text-anchor="end">6</text>
<text x="221.5" y="277.37" font-size="3.1" fill="#555" text-anchor="end">4</text>
<text x="221.5" y="289.58" font-size="3.1" fill="#555" text-anchor="end">2</text>
<text x="221.5" y="301.80" font-size="3.1" fill="#555" text-anchor="end">0</text>
<rect x="223.8" y="266.8" width="10.50" height="33.90" fill="#0000ee"/>
<rect x="235.6" y="252.3" width="9.50" height="48.40" fill="#0000ee"/>
<rect x="246.6" y="233.9" width="10.20" height="66.80" fill="#0000ee"/>
<rect x="234.3" y="266.8" width="1.30" height="33.90" fill="#dcdcf4"/>
<rect x="245.1" y="252.3" width="1.50" height="48.40" fill="#dcdcf4"/>
<rect x="222.9" y="266.8" width="0.9" height="33.9" fill="#d0d0e8"/>
<rect x="173.1" y="269.6" width="2.30" height="31.10" fill="#ffc8e4"/>
<rect x="184.8" y="249.1" width="2.00" height="51.60" fill="#ffc8e4"/>
</svg>
<div style="position:absolute;left:283.1px;top:197.1px;width:3.8px;height:3.8px;border-radius:50%;background:#e4f000"></div>
<div class="a st" style="left:289px;top:198.8px">Warehouse <span style="color:#7070e0">772 (28%)</span></div>
<div style="position:absolute;left:324.5px;top:197.1px;width:3.8px;height:3.8px;border-radius:50%;background:#6a7a00"></div>
<div class="a st" style="left:330px;top:198.8px">BAZ1 <span style="color:#7070e0">336 (6%)</span></div>
<div style="position:absolute;left:365.5px;top:197.1px;width:3.8px;height:3.8px;border-radius:50%;background:#a0a040"></div>
<div class="a st" style="left:371px;top:198.8px">BAZ2 <span style="color:#7070e0">1,510 (38%)</span></div>
<div style="position:absolute;left:406.9px;top:197.1px;width:3.8px;height:3.8px;border-radius:50%;background:#88c040"></div>
<div class="a st" style="left:412.4px;top:198.8px">BAZ3 <span style="color:#7070e0">824 (24%)</span></div>
<div style="position:absolute;left:447.6px;top:197.1px;width:3.8px;height:3.8px;border-radius:50%;background:#4a8a1a"></div>
<div class="a st" style="left:453.1px;top:198.8px">BAZ4 <span style="color:#7070e0">486 (16%)</span></div>
<svg style="position:absolute;left:0;top:0" width="550" height="313">
<rect x="282.6" y="208" width="49.70" height="7.1" fill="#e4f400"/>
<rect x="332.3" y="208" width="12.70" height="7.1" fill="#6e7e08"/>
<rect x="345" y="208" width="95.60" height="7.1" fill="#b09448"/>
<rect x="440.6" y="208" width="6.40" height="7.1" fill="#8ab848"/>
<rect x="447" y="208" width="54.70" height="7.1" fill="#4ccc1c"/>
<rect x="501.7" y="208" width="25.30" height="7.1" fill="#2a9a1a"/>
<rect x="527" y="208" width="10.30" height="7.1" fill="#c4c4c4"/>
<rect x="345" y="216.5" width="96" height="6" fill="#ffe8f4"/>
<rect x="441" y="216.5" width="86" height="6" fill="#e4fcfc"/>
<text x="283.00" y="220.6" font-size="3.1" fill="#555" text-anchor="middle">0</text>
<text x="295.74" y="220.6" font-size="3.1" fill="#555" text-anchor="middle">200</text>
<text x="308.48" y="220.6" font-size="3.1" fill="#555" text-anchor="middle">400</text>
<text x="321.22" y="220.6" font-size="3.1" fill="#555" text-anchor="middle">600</text>
<text x="333.96" y="220.6" font-size="3.1" fill="#555" text-anchor="middle">800</text>
<text x="346.70" y="220.6" font-size="3.1" fill="#555" text-anchor="middle">1,000</text>
<text x="359.44" y="220.6" font-size="3.1" fill="#555" text-anchor="middle">1,200</text>
<text x="372.18" y="220.6" font-size="3.1" fill="#555" text-anchor="middle">1,400</text>
<text x="384.92" y="220.6" font-size="3.1" fill="#555" text-anchor="middle">1,600</text>
<text x="397.66" y="220.6" font-size="3.1" fill="#555" text-anchor="middle">1,800</text>
<text x="410.40" y="220.6" font-size="3.1" fill="#555" text-anchor="middle">2,000</text>
<text x="423.14" y="220.6" font-size="3.1" fill="#555" text-anchor="middle">2,200</text>
<text x="435.88" y="220.6" font-size="3.1" fill="#555" text-anchor="middle">2,400</text>
<text x="448.62" y="220.6" font-size="3.1" fill="#555" text-anchor="middle">2,600</text>
<text x="461.36" y="220.6" font-size="3.1" fill="#555" text-anchor="middle">2,800</text>
<text x="474.10" y="220.6" font-size="3.1" fill="#555" text-anchor="middle">3,000</text>
<text x="486.84" y="220.6" font-size="3.1" fill="#555" text-anchor="middle">3,200</text>
<text x="499.58" y="220.6" font-size="3.1" fill="#555" text-anchor="middle">3,400</text>
<text x="512.32" y="220.6" font-size="3.1" fill="#555" text-anchor="middle">3,600</text>
<text x="525.06" y="220.6" font-size="3.1" fill="#555" text-anchor="middle">3,800</text>
<text x="537.80" y="220.6" font-size="3.1" fill="#555" text-anchor="middle">4,000</text>
<rect x="336" y="241.3" width="201.2" height="59.7" fill="#c0c0c0"/>
<text x="334.2" y="242.10" font-size="3.1" fill="#555" text-anchor="end">1</text>
<rect x="336" y="252.7" width="201.2" height="0.6" fill="#a9a9a9"/>
<text x="334.2" y="254.10" font-size="3.1" fill="#555" text-anchor="end">0.8</text>
<rect x="336" y="264.7" width="201.2" height="0.6" fill="#a9a9a9"/>
<text x="334.2" y="266.10" font-size="3.1" fill="#555" text-anchor="end">0.6</text>
<rect x="336" y="276.7" width="201.2" height="0.6" fill="#a9a9a9"/>
<text x="334.2" y="278.10" font-size="3.1" fill="#555" text-anchor="end">0.4</text>
<rect x="336" y="288.7" width="201.2" height="0.6" fill="#a9a9a9"/>
<text x="334.2" y="290.10" font-size="3.1" fill="#555" text-anchor="end">0.2</text>
<text x="334.2" y="302.10" font-size="3.1" fill="#555" text-anchor="end">0</text>
<rect x="338" y="272" width="19.0" height="29.0" fill="#f6fa20"/>
<rect x="361.2" y="288.2" width="17.6" height="12.8" fill="#7a7a00"/>
<rect x="384" y="255" width="17.2" height="2.8" fill="#ffa0c0"/>
<rect x="384" y="257.8" width="17.2" height="43.2" fill="#e08030"/>
<rect x="406" y="255.8" width="18.0" height="12.0" fill="#a8e0c8"/>
<rect x="406" y="267.8" width="18.0" height="33.2" fill="#00ee00"/>
<rect x="428" y="285.8" width="18.0" height="15.2" fill="#99cc00"/>
<rect x="450" y="254.2" width="18.0" height="46.8" fill="#007700"/>
<rect x="472" y="271.8" width="18.0" height="7.2" fill="#90e8c8"/>
<rect x="472" y="279" width="18.0" height="22.0" fill="#33ddff"/>
<rect x="494.8" y="255.8" width="18.4" height="9.2" fill="#a0e0c8"/>
<rect x="494.8" y="265" width="18.4" height="36.0" fill="#007878"/>
<rect x="518.5" y="271.8" width="17.7" height="6.4" fill="#ffa8d8"/>
<rect x="518.5" y="278.2" width="17.7" height="22.8" fill="#e020f0"/>
<rect x="472" y="279" width="18" height="8" fill="#6cc8f0"/>
<rect x="494.8" y="265" width="18.4" height="7" fill="#2a5a7a"/>
<rect x="518.5" y="278.2" width="17.7" height="9" fill="#a020f0"/>
<rect x="517" y="278.2" width="1.5" height="22.8" fill="#b080e0"/>
<rect x="338" y="301" width="19.0" height="1.6" fill="#f8ffc0"/>
<rect x="384" y="301" width="17.2" height="1.6" fill="#ffd0e8"/>
<rect x="406" y="301" width="18.0" height="1.6" fill="#c0fff8"/>
<rect x="472" y="301" width="18.0" height="1.6" fill="#c0fff8"/>
<rect x="518.5" y="301" width="17.7" height="1.6" fill="#ffc8f8"/>
</svg>
<div style="position:absolute;left:283.7px;top:242.5px;width:4px;height:4px;border-radius:50%;background:#e4f020"></div>
<div class="a st" style="left:289.1px;top:244.1px">Warehouse <span style="color:#7070e0">0.48</span></div>
<div style="position:absolute;left:283.7px;top:248.2px;width:4px;height:4px;border-radius:50%;background:#6b6b10"></div>
<div class="a st" style="left:289.1px;top:249.8px">BAZ 1 <span style="color:#7070e0">0.21</span></div>
<div style="position:absolute;left:283.7px;top:253.9px;width:4px;height:4px;border-radius:50%;background:#a0a040"></div>
<div class="a st" style="left:289.1px;top:255.5px">BAZ 2 <span style="color:#7070e0">0.72</span></div>
<div style="position:absolute;left:283.7px;top:259.5px;width:4px;height:4px;border-radius:50%;background:#74b434"></div>
<div class="a st" style="left:289.1px;top:261.1px">BAZ 3 <span style="color:#7070e0">0.55</span></div>
<div style="position:absolute;left:283.7px;top:265.2px;width:4px;height:4px;border-radius:50%;background:#88cc44"></div>
<div class="a st" style="left:289.1px;top:266.8px">BAZ 4 <span style="color:#7070e0">0.26</span></div>
<div style="position:absolute;left:283.7px;top:270.9px;width:4px;height:4px;border-radius:50%;background:#1a5a1a"></div>
<div class="a st" style="left:289.1px;top:272.5px">Transporter <span style="color:#7070e0">0.78</span></div>
<div style="position:absolute;left:283.7px;top:276.6px;width:4px;height:4px;border-radius:50%;background:#a0c8f0"></div>
<div class="a st" style="left:289.1px;top:278.2px">Product Control <span style="color:#7070e0">0.35</span></div>
<div style="position:absolute;left:283.7px;top:282.3px;width:4px;height:4px;border-radius:50%;background:#2a6a6a"></div>
<div class="a st" style="left:289.1px;top:283.9px">Carrier Control <span style="color:#7070e0">0.6</span></div>
<div style="position:absolute;left:283.7px;top:287.9px;width:4px;height:4px;border-radius:50%;background:#7a3af0"></div>
<div class="a st" style="left:289.1px;top:289.5px">Product Preparation <span style="color:#7070e0">0.38</span></div>
<svg style="position:absolute;left:0;top:0;mix-blend-mode:multiply" width="550" height="313"><rect x="32.0" y="111.5" width="234.0" height="16.5" fill="#f2fefe"/><rect x="33.0" y="111.5" width="1.2" height="16.5" fill="#dcfcfc" opacity="0.8"/><rect x="38.3" y="111.5" width="1.2" height="16.5" fill="#dcfcfc" opacity="0.8"/><rect x="42.0" y="111.5" width="1.2" height="16.5" fill="#dcfcfc" opacity="0.8"/><rect x="47.3" y="111.5" width="1.2" height="16.5" fill="#dcfcfc" opacity="0.8"/><rect x="51.0" y="111.5" width="1.2" height="16.5" fill="#dcfcfc" opacity="0.8"/><rect x="56.3" y="111.5" width="1.2" height="16.5" fill="#dcfcfc" opacity="0.8"/><rect x="60.0" y="111.5" width="1.2" height="16.5" fill="#dcfcfc" opacity="0.8"/><rect x="65.3" y="111.5" width="1.2" height="16.5" fill="#dcfcfc" opacity="0.8"/><rect x="69.0" y="111.5" width="1.2" height="16.5" fill="#dcfcfc" opacity="0.8"/><rect x="74.3" y="111.5" width="1.2" height="16.5" fill="#dcfcfc" opacity="0.8"/><rect x="78.0" y="111.5" width="1.2" height="16.5" fill="#dcfcfc" opacity="0.8"/><rect x="83.3" y="111.5" width="1.2" height="16.5" fill="#dcfcfc" opacity="0.8"/><rect x="87.0" y="111.5" width="1.2" height="16.5" fill="#dcfcfc" opacity="0.8"/><rect x="92.3" y="111.5" width="1.2" height="16.5" fill="#dcfcfc" opacity="0.8"/><rect x="96.0" y="111.5" width="1.2" height="16.5" fill="#dcfcfc" opacity="0.8"/><rect x="101.3" y="111.5" width="1.2" height="16.5" fill="#dcfcfc" opacity="0.8"/><rect x="105.0" y="111.5" width="1.2" height="16.5" fill="#dcfcfc" opacity="0.8"/><rect x="110.3" y="111.5" width="1.2" height="16.5" fill="#dcfcfc" opacity="0.8"/><rect x="114.0" y="111.5" width="1.2" height="16.5" fill="#dcfcfc" opacity="0.8"/><rect x="119.3" y="111.5" width="1.2" height="16.5" fill="#dcfcfc" opacity="0.8"/><rect x="123.0" y="111.5" width="1.2" height="16.5" fill="#dcfcfc" opacity="0.8"/><rect x="128.3" y="111.5" width="1.2" height="16.5" fill="#dcfcfc" opacity="0.8"/><rect x="132.0" y="111.5" width="1.2" height="16.5" fill="#dcfcfc" opacity="0.8"/><rect x="137.3" y="111.5" width="1.2" height="16.5" fill="#dcfcfc" opacity="0.8"/><rect x="141.0" y="111.5" width="1.2" height="16.5" fill="#dcfcfc" opacity="0.8"/><rect x="146.3" y="111.5" width="1.2" height="16.5" fill="#dcfcfc" opacity="0.8"/><rect x="150.0" y="111.5" width="1.2" height="16.5" fill="#dcfcfc" opacity="0.8"/><rect x="155.3" y="111.5" width="1.2" height="16.5" fill="#dcfcfc" opacity="0.8"/><rect x="159.0" y="111.5" width="1.2" height="16.5" fill="#dcfcfc" opacity="0.8"/><rect x="164.3" y="111.5" width="1.2" height="16.5" fill="#dcfcfc" opacity="0.8"/><rect x="168.0" y="111.5" width="1.2" height="16.5" fill="#dcfcfc" opacity="0.8"/><rect x="173.3" y="111.5" width="1.2" height="16.5" fill="#dcfcfc" opacity="0.8"/><rect x="177.0" y="111.5" width="1.2" height="16.5" fill="#dcfcfc" opacity="0.8"/><rect x="182.3" y="111.5" width="1.2" height="16.5" fill="#dcfcfc" opacity="0.8"/><rect x="186.0" y="111.5" width="1.2" height="16.5" fill="#dcfcfc" opacity="0.8"/><rect x="191.3" y="111.5" width="1.2" height="16.5" fill="#dcfcfc" opacity="0.8"/><rect x="195.0" y="111.5" width="1.2" height="16.5" fill="#dcfcfc" opacity="0.8"/><rect x="200.3" y="111.5" width="1.2" height="16.5" fill="#dcfcfc" opacity="0.8"/><rect x="204.0" y="111.5" width="1.2" height="16.5" fill="#dcfcfc" opacity="0.8"/><rect x="209.3" y="111.5" width="1.2" height="16.5" fill="#dcfcfc" opacity="0.8"/><rect x="213.0" y="111.5" width="1.2" height="16.5" fill="#dcfcfc" opacity="0.8"/><rect x="218.3" y="111.5" width="1.2" height="16.5" fill="#dcfcfc" opacity="0.8"/><rect x="222.0" y="111.5" width="1.2" height="16.5" fill="#dcfcfc" opacity="0.8"/><rect x="227.3" y="111.5" width="1.2" height="16.5" fill="#dcfcfc" opacity="0.8"/><rect x="231.0" y="111.5" width="1.2" height="16.5" fill="#dcfcfc" opacity="0.8"/><rect x="236.3" y="111.5" width="1.2" height="16.5" fill="#dcfcfc" opacity="0.8"/><rect x="240.0" y="111.5" width="1.2" height="16.5" fill="#dcfcfc" opacity="0.8"/><rect x="245.3" y="111.5" width="1.2" height="16.5" fill="#dcfcfc" opacity="0.8"/><rect x="249.0" y="111.5" width="1.2" height="16.5" fill="#dcfcfc" opacity="0.8"/><rect x="254.3" y="111.5" width="1.2" height="16.5" fill="#dcfcfc" opacity="0.8"/><rect x="258.0" y="111.5" width="1.2" height="16.5" fill="#dcfcfc" opacity="0.8"/><rect x="263.3" y="111.5" width="1.2" height="16.5" fill="#dcfcfc" opacity="0.8"/><rect x="33.6" y="111.5" width="1.8" height="9.5" fill="#ffa0ec"/><rect x="48.9" y="111.5" width="1.8" height="9.5" fill="#ffa0ec"/><rect x="64.2" y="111.5" width="1.8" height="9.5" fill="#ffa0ec"/><rect x="79.5" y="111.5" width="1.8" height="9.5" fill="#ffa0ec"/><rect x="94.8" y="111.5" width="1.8" height="9.5" fill="#ffa0ec"/><rect x="110.1" y="111.5" width="1.8" height="9.5" fill="#ffa0ec"/><rect x="125.4" y="111.5" width="1.8" height="9.5" fill="#ffa0ec"/><rect x="140.7" y="111.5" width="1.8" height="9.5" fill="#ffa0ec"/><rect x="156.0" y="111.5" width="1.8" height="9.5" fill="#ffa0ec"/><rect x="171.3" y="111.5" width="1.8" height="9.5" fill="#ffa0ec"/><rect x="186.6" y="111.5" width="1.8" height="9.5" fill="#ffa0ec"/><rect x="201.9" y="111.5" width="1.8" height="9.5" fill="#ffa0ec"/><rect x="217.2" y="111.5" width="1.8" height="9.5" fill="#ffa0ec"/><rect x="232.5" y="111.5" width="1.8" height="9.5" fill="#ffa0ec"/><rect x="247.8" y="111.5" width="1.8" height="9.5" fill="#ffa0ec"/><rect x="263.1" y="111.5" width="1.8" height="9.5" fill="#ffa0ec"/><rect x="37.3" y="122.0" width="1.8" height="6.0" fill="#ffa0ec"/><rect x="52.6" y="122.0" width="1.8" height="6.0" fill="#ffa0ec"/><rect x="67.9" y="122.0" width="1.8" height="6.0" fill="#ffa0ec"/><rect x="83.2" y="122.0" width="1.8" height="6.0" fill="#ffa0ec"/><rect x="98.5" y="122.0" width="1.8" height="6.0" fill="#ffa0ec"/><rect x="113.8" y="122.0" width="1.8" height="6.0" fill="#ffa0ec"/><rect x="129.1" y="122.0" width="1.8" height="6.0" fill="#ffa0ec"/><rect x="144.4" y="122.0" width="1.8" height="6.0" fill="#ffa0ec"/><rect x="159.7" y="122.0" width="1.8" height="6.0" fill="#ffa0ec"/><rect x="175.0" y="122.0" width="1.8" height="6.0" fill="#ffa0ec"/><rect x="190.3" y="122.0" width="1.8" height="6.0" fill="#ffa0ec"/><rect x="205.6" y="122.0" width="1.8" height="6.0" fill="#ffa0ec"/><rect x="220.9" y="122.0" width="1.8" height="6.0" fill="#ffa0ec"/><rect x="236.2" y="122.0" width="1.8" height="6.0" fill="#ffa0ec"/><rect x="251.5" y="122.0" width="1.8" height="6.0" fill="#ffa0ec"/><rect x="24.0" y="143.5" width="242.0" height="17.5" fill="#f2fefe"/><rect x="25.0" y="143.5" width="1.2" height="17.5" fill="#dcfcfc" opacity="0.8"/><rect x="30.3" y="143.5" width="1.2" height="17.5" fill="#dcfcfc" opacity="0.8"/><rect x="34.0" y="143.5" width="1.2" height="17.5" fill="#dcfcfc" opacity="0.8"/><rect x="39.3" y="143.5" width="1.2" height="17.5" fill="#dcfcfc" opacity="0.8"/><rect x="43.0" y="143.5" width="1.2" height="17.5" fill="#dcfcfc" opacity="0.8"/><rect x="48.3" y="143.5" width="1.2" height="17.5" fill="#dcfcfc" opacity="0.8"/><rect x="52.0" y="143.5" width="1.2" height="17.5" fill="#dcfcfc" opacity="0.8"/><rect x="57.3" y="143.5" width="1.2" height="17.5" fill="#dcfcfc" opacity="0.8"/><rect x="61.0" y="143.5" width="1.2" height="17.5" fill="#dcfcfc" opacity="0.8"/><rect x="66.3" y="143.5" width="1.2" height="17.5" fill="#dcfcfc" opacity="0.8"/><rect x="70.0" y="143.5" width="1.2" height="17.5" fill="#dcfcfc" opacity="0.8"/><rect x="75.3" y="143.5" width="1.2" height="17.5" fill="#dcfcfc" opacity="0.8"/><rect x="79.0" y="143.5" width="1.2" height="17.5" fill="#dcfcfc" opacity="0.8"/><rect x="84.3" y="143.5" width="1.2" height="17.5" fill="#dcfcfc" opacity="0.8"/><rect x="88.0" y="143.5" width="1.2" height="17.5" fill="#dcfcfc" opacity="0.8"/><rect x="93.3" y="143.5" width="1.2" height="17.5" fill="#dcfcfc" opacity="0.8"/><rect x="97.0" y="143.5" width="1.2" height="17.5" fill="#dcfcfc" opacity="0.8"/><rect x="102.3" y="143.5" width="1.2" height="17.5" fill="#dcfcfc" opacity="0.8"/><rect x="106.0" y="143.5" width="1.2" height="17.5" fill="#dcfcfc" opacity="0.8"/><rect x="111.3" y="143.5" width="1.2" height="17.5" fill="#dcfcfc" opacity="0.8"/><rect x="115.0" y="143.5" width="1.2" height="17.5" fill="#dcfcfc" opacity="0.8"/><rect x="120.3" y="143.5" width="1.2" height="17.5" fill="#dcfcfc" opacity="0.8"/><rect x="124.0" y="143.5" width="1.2" height="17.5" fill="#dcfcfc" opacity="0.8"/><rect x="129.3" y="143.5" width="1.2" height="17.5" fill="#dcfcfc" opacity="0.8"/><rect x="133.0" y="143.5" width="1.2" height="17.5" fill="#dcfcfc" opacity="0.8"/><rect x="138.3" y="143.5" width="1.2" height="17.5" fill="#dcfcfc" opacity="0.8"/><rect x="142.0" y="143.5" width="1.2" height="17.5" fill="#dcfcfc" opacity="0.8"/><rect x="147.3" y="143.5" width="1.2" height="17.5" fill="#dcfcfc" opacity="0.8"/><rect x="151.0" y="143.5" width="1.2" height="17.5" fill="#dcfcfc" opacity="0.8"/><rect x="156.3" y="143.5" width="1.2" height="17.5" fill="#dcfcfc" opacity="0.8"/><rect x="160.0" y="143.5" width="1.2" height="17.5" fill="#dcfcfc" opacity="0.8"/><rect x="165.3" y="143.5" width="1.2" height="17.5" fill="#dcfcfc" opacity="0.8"/><rect x="169.0" y="143.5" width="1.2" height="17.5" fill="#dcfcfc" opacity="0.8"/><rect x="174.3" y="143.5" width="1.2" height="17.5" fill="#dcfcfc" opacity="0.8"/><rect x="178.0" y="143.5" width="1.2" height="17.5" fill="#dcfcfc" opacity="0.8"/><rect x="183.3" y="143.5" width="1.2" height="17.5" fill="#dcfcfc" opacity="0.8"/><rect x="187.0" y="143.5" width="1.2" height="17.5" fill="#dcfcfc" opacity="0.8"/><rect x="192.3" y="143.5" width="1.2" height="17.5" fill="#dcfcfc" opacity="0.8"/><rect x="196.0" y="143.5" width="1.2" height="17.5" fill="#dcfcfc" opacity="0.8"/><rect x="201.3" y="143.5" width="1.2" height="17.5" fill="#dcfcfc" opacity="0.8"/><rect x="205.0" y="143.5" width="1.2" height="17.5" fill="#dcfcfc" opacity="0.8"/><rect x="210.3" y="143.5" width="1.2" height="17.5" fill="#dcfcfc" opacity="0.8"/><rect x="214.0" y="143.5" width="1.2" height="17.5" fill="#dcfcfc" opacity="0.8"/><rect x="219.3" y="143.5" width="1.2" height="17.5" fill="#dcfcfc" opacity="0.8"/><rect x="223.0" y="143.5" width="1.2" height="17.5" fill="#dcfcfc" opacity="0.8"/><rect x="228.3" y="143.5" width="1.2" height="17.5" fill="#dcfcfc" opacity="0.8"/><rect x="232.0" y="143.5" width="1.2" height="17.5" fill="#dcfcfc" opacity="0.8"/><rect x="237.3" y="143.5" width="1.2" height="17.5" fill="#dcfcfc" opacity="0.8"/><rect x="241.0" y="143.5" width="1.2" height="17.5" fill="#dcfcfc" opacity="0.8"/><rect x="246.3" y="143.5" width="1.2" height="17.5" fill="#dcfcfc" opacity="0.8"/><rect x="250.0" y="143.5" width="1.2" height="17.5" fill="#dcfcfc" opacity="0.8"/><rect x="255.3" y="143.5" width="1.2" height="17.5" fill="#dcfcfc" opacity="0.8"/><rect x="259.0" y="143.5" width="1.2" height="17.5" fill="#dcfcfc" opacity="0.8"/><rect x="264.3" y="143.5" width="1.2" height="17.5" fill="#dcfcfc" opacity="0.8"/><rect x="26.8" y="143.5" width="1.8" height="7.0" fill="#ffa0ec"/><rect x="43.1" y="143.5" width="1.8" height="7.0" fill="#ffa0ec"/><rect x="59.4" y="143.5" width="1.8" height="7.0" fill="#ffa0ec"/><rect x="75.7" y="143.5" width="1.8" height="7.0" fill="#ffa0ec"/><rect x="92.0" y="143.5" width="1.8" height="7.0" fill="#ffa0ec"/><rect x="108.3" y="143.5" width="1.8" height="7.0" fill="#ffa0ec"/><rect x="124.6" y="143.5" width="1.8" height="7.0" fill="#ffa0ec"/><rect x="140.9" y="143.5" width="1.8" height="7.0" fill="#ffa0ec"/><rect x="157.2" y="143.5" width="1.8" height="7.0" fill="#ffa0ec"/><rect x="173.5" y="143.5" width="1.8" height="7.0" fill="#ffa0ec"/><rect x="189.8" y="143.5" width="1.8" height="7.0" fill="#ffa0ec"/><rect x="206.1" y="143.5" width="1.8" height="7.0" fill="#ffa0ec"/><rect x="222.4" y="143.5" width="1.8" height="7.0" fill="#ffa0ec"/><rect x="238.7" y="143.5" width="1.8" height="7.0" fill="#ffa0ec"/><rect x="255.0" y="143.5" width="1.8" height="7.0" fill="#ffa0ec"/><rect x="30.8" y="152.0" width="1.8" height="8.5" fill="#ffa0ec"/><rect x="47.1" y="152.0" width="1.8" height="8.5" fill="#ffa0ec"/><rect x="63.4" y="152.0" width="1.8" height="8.5" fill="#ffa0ec"/><rect x="79.7" y="152.0" width="1.8" height="8.5" fill="#ffa0ec"/><rect x="96.0" y="152.0" width="1.8" height="8.5" fill="#ffa0ec"/><rect x="112.3" y="152.0" width="1.8" height="8.5" fill="#ffa0ec"/><rect x="128.6" y="152.0" width="1.8" height="8.5" fill="#ffa0ec"/><rect x="144.9" y="152.0" width="1.8" height="8.5" fill="#ffa0ec"/><rect x="161.2" y="152.0" width="1.8" height="8.5" fill="#ffa0ec"/><rect x="177.5" y="152.0" width="1.8" height="8.5" fill="#ffa0ec"/><rect x="193.8" y="152.0" width="1.8" height="8.5" fill="#ffa0ec"/><rect x="210.1" y="152.0" width="1.8" height="8.5" fill="#ffa0ec"/><rect x="226.4" y="152.0" width="1.8" height="8.5" fill="#ffa0ec"/><rect x="242.7" y="152.0" width="1.8" height="8.5" fill="#ffa0ec"/><rect x="259.0" y="152.0" width="1.8" height="8.5" fill="#ffa0ec"/><rect x="24.0" y="175.5" width="192.0" height="15.5" fill="#f2fefe"/><rect x="25.0" y="175.5" width="1.2" height="15.5" fill="#dcfcfc" opacity="0.8"/><rect x="30.3" y="175.5" width="1.2" height="15.5" fill="#dcfcfc" opacity="0.8"/><rect x="34.0" y="175.5" width="1.2" height="15.5" fill="#dcfcfc" opacity="0.8"/><rect x="39.3" y="175.5" width="1.2" height="15.5" fill="#dcfcfc" opacity="0.8"/><rect x="43.0" y="175.5" width="1.2" height="15.5" fill="#dcfcfc" opacity="0.8"/><rect x="48.3" y="175.5" width="1.2" height="15.5" fill="#dcfcfc" opacity="0.8"/><rect x="52.0" y="175.5" width="1.2" height="15.5" fill="#dcfcfc" opacity="0.8"/><rect x="57.3" y="175.5" width="1.2" height="15.5" fill="#dcfcfc" opacity="0.8"/><rect x="61.0" y="175.5" width="1.2" height="15.5" fill="#dcfcfc" opacity="0.8"/><rect x="66.3" y="175.5" width="1.2" height="15.5" fill="#dcfcfc" opacity="0.8"/><rect x="70.0" y="175.5" width="1.2" height="15.5" fill="#dcfcfc" opacity="0.8"/><rect x="75.3" y="175.5" width="1.2" height="15.5" fill="#dcfcfc" opacity="0.8"/><rect x="79.0" y="175.5" width="1.2" height="15.5" fill="#dcfcfc" opacity="0.8"/><rect x="84.3" y="175.5" width="1.2" height="15.5" fill="#dcfcfc" opacity="0.8"/><rect x="88.0" y="175.5" width="1.2" height="15.5" fill="#dcfcfc" opacity="0.8"/><rect x="93.3" y="175.5" width="1.2" height="15.5" fill="#dcfcfc" opacity="0.8"/><rect x="97.0" y="175.5" width="1.2" height="15.5" fill="#dcfcfc" opacity="0.8"/><rect x="102.3" y="175.5" width="1.2" height="15.5" fill="#dcfcfc" opacity="0.8"/><rect x="106.0" y="175.5" width="1.2" height="15.5" fill="#dcfcfc" opacity="0.8"/><rect x="111.3" y="175.5" width="1.2" height="15.5" fill="#dcfcfc" opacity="0.8"/><rect x="115.0" y="175.5" width="1.2" height="15.5" fill="#dcfcfc" opacity="0.8"/><rect x="120.3" y="175.5" width="1.2" height="15.5" fill="#dcfcfc" opacity="0.8"/><rect x="124.0" y="175.5" width="1.2" height="15.5" fill="#dcfcfc" opacity="0.8"/><rect x="129.3" y="175.5" width="1.2" height="15.5" fill="#dcfcfc" opacity="0.8"/><rect x="133.0" y="175.5" width="1.2" height="15.5" fill="#dcfcfc" opacity="0.8"/><rect x="138.3" y="175.5" width="1.2" height="15.5" fill="#dcfcfc" opacity="0.8"/><rect x="142.0" y="175.5" width="1.2" height="15.5" fill="#dcfcfc" opacity="0.8"/><rect x="147.3" y="175.5" width="1.2" height="15.5" fill="#dcfcfc" opacity="0.8"/><rect x="151.0" y="175.5" width="1.2" height="15.5" fill="#dcfcfc" opacity="0.8"/><rect x="156.3" y="175.5" width="1.2" height="15.5" fill="#dcfcfc" opacity="0.8"/><rect x="160.0" y="175.5" width="1.2" height="15.5" fill="#dcfcfc" opacity="0.8"/><rect x="165.3" y="175.5" width="1.2" height="15.5" fill="#dcfcfc" opacity="0.8"/><rect x="169.0" y="175.5" width="1.2" height="15.5" fill="#dcfcfc" opacity="0.8"/><rect x="174.3" y="175.5" width="1.2" height="15.5" fill="#dcfcfc" opacity="0.8"/><rect x="178.0" y="175.5" width="1.2" height="15.5" fill="#dcfcfc" opacity="0.8"/><rect x="183.3" y="175.5" width="1.2" height="15.5" fill="#dcfcfc" opacity="0.8"/><rect x="187.0" y="175.5" width="1.2" height="15.5" fill="#dcfcfc" opacity="0.8"/><rect x="192.3" y="175.5" width="1.2" height="15.5" fill="#dcfcfc" opacity="0.8"/><rect x="196.0" y="175.5" width="1.2" height="15.5" fill="#dcfcfc" opacity="0.8"/><rect x="201.3" y="175.5" width="1.2" height="15.5" fill="#dcfcfc" opacity="0.8"/><rect x="205.0" y="175.5" width="1.2" height="15.5" fill="#dcfcfc" opacity="0.8"/><rect x="210.3" y="175.5" width="1.2" height="15.5" fill="#dcfcfc" opacity="0.8"/><rect x="214.0" y="175.5" width="1.2" height="15.5" fill="#dcfcfc" opacity="0.8"/><rect x="23.1" y="176.0" width="1.8" height="10.0" fill="#ffa0ec"/><rect x="39.1" y="176.0" width="1.8" height="10.0" fill="#ffa0ec"/><rect x="55.1" y="176.0" width="1.8" height="10.0" fill="#ffa0ec"/><rect x="71.1" y="176.0" width="1.8" height="10.0" fill="#ffa0ec"/><rect x="87.1" y="176.0" width="1.8" height="10.0" fill="#ffa0ec"/><rect x="103.1" y="176.0" width="1.8" height="10.0" fill="#ffa0ec"/><rect x="119.1" y="176.0" width="1.8" height="10.0" fill="#ffa0ec"/><rect x="135.1" y="176.0" width="1.8" height="10.0" fill="#ffa0ec"/><rect x="151.1" y="176.0" width="1.8" height="10.0" fill="#ffa0ec"/><rect x="167.1" y="176.0" width="1.8" height="10.0" fill="#ffa0ec"/><rect x="183.1" y="176.0" width="1.8" height="10.0" fill="#ffa0ec"/><rect x="199.1" y="176.0" width="1.8" height="10.0" fill="#ffa0ec"/><rect x="5.0" y="239.0" width="200.0" height="17.0" fill="#f2fefe"/><rect x="6.0" y="239.0" width="1.2" height="17.0" fill="#dcfcfc" opacity="0.8"/><rect x="11.3" y="239.0" width="1.2" height="17.0" fill="#dcfcfc" opacity="0.8"/><rect x="15.0" y="239.0" width="1.2" height="17.0" fill="#dcfcfc" opacity="0.8"/><rect x="20.3" y="239.0" width="1.2" height="17.0" fill="#dcfcfc" opacity="0.8"/><rect x="24.0" y="239.0" width="1.2" height="17.0" fill="#dcfcfc" opacity="0.8"/><rect x="29.3" y="239.0" width="1.2" height="17.0" fill="#dcfcfc" opacity="0.8"/><rect x="33.0" y="239.0" width="1.2" height="17.0" fill="#dcfcfc" opacity="0.8"/><rect x="38.3" y="239.0" width="1.2" height="17.0" fill="#dcfcfc" opacity="0.8"/><rect x="42.0" y="239.0" width="1.2" height="17.0" fill="#dcfcfc" opacity="0.8"/><rect x="47.3" y="239.0" width="1.2" height="17.0" fill="#dcfcfc" opacity="0.8"/><rect x="51.0" y="239.0" width="1.2" height="17.0" fill="#dcfcfc" opacity="0.8"/><rect x="56.3" y="239.0" width="1.2" height="17.0" fill="#dcfcfc" opacity="0.8"/><rect x="60.0" y="239.0" width="1.2" height="17.0" fill="#dcfcfc" opacity="0.8"/><rect x="65.3" y="239.0" width="1.2" height="17.0" fill="#dcfcfc" opacity="0.8"/><rect x="69.0" y="239.0" width="1.2" height="17.0" fill="#dcfcfc" opacity="0.8"/><rect x="74.3" y="239.0" width="1.2" height="17.0" fill="#dcfcfc" opacity="0.8"/><rect x="78.0" y="239.0" width="1.2" height="17.0" fill="#dcfcfc" opacity="0.8"/><rect x="83.3" y="239.0" width="1.2" height="17.0" fill="#dcfcfc" opacity="0.8"/><rect x="87.0" y="239.0" width="1.2" height="17.0" fill="#dcfcfc" opacity="0.8"/><rect x="92.3" y="239.0" width="1.2" height="17.0" fill="#dcfcfc" opacity="0.8"/><rect x="96.0" y="239.0" width="1.2" height="17.0" fill="#dcfcfc" opacity="0.8"/><rect x="101.3" y="239.0" width="1.2" height="17.0" fill="#dcfcfc" opacity="0.8"/><rect x="105.0" y="239.0" width="1.2" height="17.0" fill="#dcfcfc" opacity="0.8"/><rect x="110.3" y="239.0" width="1.2" height="17.0" fill="#dcfcfc" opacity="0.8"/><rect x="114.0" y="239.0" width="1.2" height="17.0" fill="#dcfcfc" opacity="0.8"/><rect x="119.3" y="239.0" width="1.2" height="17.0" fill="#dcfcfc" opacity="0.8"/><rect x="123.0" y="239.0" width="1.2" height="17.0" fill="#dcfcfc" opacity="0.8"/><rect x="128.3" y="239.0" width="1.2" height="17.0" fill="#dcfcfc" opacity="0.8"/><rect x="132.0" y="239.0" width="1.2" height="17.0" fill="#dcfcfc" opacity="0.8"/><rect x="137.3" y="239.0" width="1.2" height="17.0" fill="#dcfcfc" opacity="0.8"/><rect x="141.0" y="239.0" width="1.2" height="17.0" fill="#dcfcfc" opacity="0.8"/><rect x="146.3" y="239.0" width="1.2" height="17.0" fill="#dcfcfc" opacity="0.8"/><rect x="150.0" y="239.0" width="1.2" height="17.0" fill="#dcfcfc" opacity="0.8"/><rect x="155.3" y="239.0" width="1.2" height="17.0" fill="#dcfcfc" opacity="0.8"/><rect x="5.1" y="249.5" width="1.8" height="6.0" fill="#ffa0ec"/><rect x="12.1" y="249.5" width="1.8" height="6.0" fill="#ffa0ec"/><rect x="19.1" y="249.5" width="1.8" height="6.0" fill="#ffa0ec"/><rect x="26.1" y="249.5" width="1.8" height="6.0" fill="#ffa0ec"/><rect x="33.1" y="249.5" width="1.8" height="6.0" fill="#ffa0ec"/><rect x="40.1" y="249.5" width="1.8" height="6.0" fill="#ffa0ec"/><rect x="47.1" y="249.5" width="1.8" height="6.0" fill="#ffa0ec"/><rect x="54.1" y="249.5" width="1.8" height="6.0" fill="#ffa0ec"/><rect x="61.1" y="249.5" width="1.8" height="6.0" fill="#ffa0ec"/><rect x="68.1" y="249.5" width="1.8" height="6.0" fill="#ffa0ec"/><rect x="75.1" y="249.5" width="1.8" height="6.0" fill="#ffa0ec"/><rect x="82.1" y="249.5" width="1.8" height="6.0" fill="#ffa0ec"/><rect x="89.1" y="249.5" width="1.8" height="6.0" fill="#ffa0ec"/><rect x="96.1" y="249.5" width="1.8" height="6.0" fill="#ffa0ec"/><rect x="103.1" y="249.5" width="1.8" height="6.0" fill="#ffa0ec"/><rect x="110.1" y="249.5" width="1.8" height="6.0" fill="#ffa0ec"/><rect x="117.1" y="249.5" width="1.8" height="6.0" fill="#ffa0ec"/><rect x="124.1" y="249.5" width="1.8" height="6.0" fill="#ffa0ec"/><rect x="131.1" y="249.5" width="1.8" height="6.0" fill="#ffa0ec"/><rect x="138.1" y="249.5" width="1.8" height="6.0" fill="#ffa0ec"/><rect x="145.1" y="249.5" width="1.8" height="6.0" fill="#ffa0ec"/><rect x="152.1" y="249.5" width="1.8" height="6.0" fill="#ffa0ec"/><rect x="201.1" y="249.5" width="1.8" height="6.0" fill="#ffa0ec"/><rect x="5.0" y="271.0" width="155.0" height="17.0" fill="#f2fefe"/><rect x="6.0" y="271.0" width="1.2" height="17.0" fill="#c4f8f8" opacity="0.8"/><rect x="11.3" y="271.0" width="1.2" height="17.0" fill="#c4f8f8" opacity="0.8"/><rect x="15.0" y="271.0" width="1.2" height="17.0" fill="#c4f8f8" opacity="0.8"/><rect x="20.3" y="271.0" width="1.2" height="17.0" fill="#c4f8f8" opacity="0.8"/><rect x="24.0" y="271.0" width="1.2" height="17.0" fill="#c4f8f8" opacity="0.8"/><rect x="29.3" y="271.0" width="1.2" height="17.0" fill="#c4f8f8" opacity="0.8"/><rect x="33.0" y="271.0" width="1.2" height="17.0" fill="#c4f8f8" opacity="0.8"/><rect x="38.3" y="271.0" width="1.2" height="17.0" fill="#c4f8f8" opacity="0.8"/><rect x="42.0" y="271.0" width="1.2" height="17.0" fill="#c4f8f8" opacity="0.8"/><rect x="47.3" y="271.0" width="1.2" height="17.0" fill="#c4f8f8" opacity="0.8"/><rect x="51.0" y="271.0" width="1.2" height="17.0" fill="#c4f8f8" opacity="0.8"/><rect x="56.3" y="271.0" width="1.2" height="17.0" fill="#c4f8f8" opacity="0.8"/><rect x="60.0" y="271.0" width="1.2" height="17.0" fill="#c4f8f8" opacity="0.8"/><rect x="65.3" y="271.0" width="1.2" height="17.0" fill="#c4f8f8" opacity="0.8"/><rect x="69.0" y="271.0" width="1.2" height="17.0" fill="#c4f8f8" opacity="0.8"/><rect x="74.3" y="271.0" width="1.2" height="17.0" fill="#c4f8f8" opacity="0.8"/><rect x="78.0" y="271.0" width="1.2" height="17.0" fill="#c4f8f8" opacity="0.8"/><rect x="83.3" y="271.0" width="1.2" height="17.0" fill="#c4f8f8" opacity="0.8"/><rect x="87.0" y="271.0" width="1.2" height="17.0" fill="#c4f8f8" opacity="0.8"/><rect x="92.3" y="271.0" width="1.2" height="17.0" fill="#c4f8f8" opacity="0.8"/><rect x="96.0" y="271.0" width="1.2" height="17.0" fill="#c4f8f8" opacity="0.8"/><rect x="101.3" y="271.0" width="1.2" height="17.0" fill="#c4f8f8" opacity="0.8"/><rect x="105.0" y="271.0" width="1.2" height="17.0" fill="#c4f8f8" opacity="0.8"/><rect x="110.3" y="271.0" width="1.2" height="17.0" fill="#c4f8f8" opacity="0.8"/><rect x="114.0" y="271.0" width="1.2" height="17.0" fill="#c4f8f8" opacity="0.8"/><rect x="119.3" y="271.0" width="1.2" height="17.0" fill="#c4f8f8" opacity="0.8"/><rect x="123.0" y="271.0" width="1.2" height="17.0" fill="#c4f8f8" opacity="0.8"/><rect x="128.3" y="271.0" width="1.2" height="17.0" fill="#c4f8f8" opacity="0.8"/><rect x="132.0" y="271.0" width="1.2" height="17.0" fill="#c4f8f8" opacity="0.8"/><rect x="137.3" y="271.0" width="1.2" height="17.0" fill="#c4f8f8" opacity="0.8"/><rect x="141.0" y="271.0" width="1.2" height="17.0" fill="#c4f8f8" opacity="0.8"/><rect x="146.3" y="271.0" width="1.2" height="17.0" fill="#c4f8f8" opacity="0.8"/><rect x="150.0" y="271.0" width="1.2" height="17.0" fill="#c4f8f8" opacity="0.8"/><rect x="155.3" y="271.0" width="1.2" height="17.0" fill="#c4f8f8" opacity="0.8"/><rect x="5.6" y="271.0" width="1.8" height="7.0" fill="#ffa0ec"/><rect x="11.1" y="271.0" width="1.8" height="7.0" fill="#ffa0ec"/><rect x="16.6" y="271.0" width="1.8" height="7.0" fill="#ffa0ec"/><rect x="22.1" y="271.0" width="1.8" height="7.0" fill="#ffa0ec"/><rect x="27.6" y="271.0" width="1.8" height="7.0" fill="#ffa0ec"/><rect x="33.1" y="271.0" width="1.8" height="7.0" fill="#ffa0ec"/><rect x="38.6" y="271.0" width="1.8" height="7.0" fill="#ffa0ec"/><rect x="44.1" y="271.0" width="1.8" height="7.0" fill="#ffa0ec"/><rect x="49.6" y="271.0" width="1.8" height="7.0" fill="#ffa0ec"/><rect x="55.1" y="271.0" width="1.8" height="7.0" fill="#ffa0ec"/><rect x="60.6" y="271.0" width="1.8" height="7.0" fill="#ffa0ec"/><rect x="66.1" y="271.0" width="1.8" height="7.0" fill="#ffa0ec"/><rect x="71.6" y="271.0" width="1.8" height="7.0" fill="#ffa0ec"/><rect x="77.1" y="271.0" width="1.8" height="7.0" fill="#ffa0ec"/><rect x="82.6" y="271.0" width="1.8" height="7.0" fill="#ffa0ec"/><rect x="88.1" y="271.0" width="1.8" height="7.0" fill="#ffa0ec"/><rect x="93.6" y="271.0" width="1.8" height="7.0" fill="#ffa0ec"/><rect x="99.1" y="271.0" width="1.8" height="7.0" fill="#ffa0ec"/><rect x="104.6" y="271.0" width="1.8" height="7.0" fill="#ffa0ec"/><rect x="110.1" y="271.0" width="1.8" height="7.0" fill="#ffa0ec"/><rect x="115.6" y="271.0" width="1.8" height="7.0" fill="#ffa0ec"/><rect x="121.1" y="271.0" width="1.8" height="7.0" fill="#ffa0ec"/><rect x="126.6" y="271.0" width="1.8" height="7.0" fill="#ffa0ec"/><rect x="132.1" y="271.0" width="1.8" height="7.0" fill="#ffa0ec"/><rect x="137.6" y="271.0" width="1.8" height="7.0" fill="#ffa0ec"/><rect x="143.1" y="271.0" width="1.8" height="7.0" fill="#ffa0ec"/><rect x="148.6" y="271.0" width="1.8" height="7.0" fill="#ffa0ec"/><rect x="154.1" y="271.0" width="1.8" height="7.0" fill="#ffa0ec"/><rect x="7.1" y="279.0" width="1.8" height="9.0" fill="#ffa0ec"/><rect x="23.6" y="279.0" width="1.8" height="9.0" fill="#ffa0ec"/><rect x="40.1" y="279.0" width="1.8" height="9.0" fill="#ffa0ec"/><rect x="56.6" y="279.0" width="1.8" height="9.0" fill="#ffa0ec"/><rect x="73.1" y="279.0" width="1.8" height="9.0" fill="#ffa0ec"/><rect x="89.6" y="279.0" width="1.8" height="9.0" fill="#ffa0ec"/><rect x="106.1" y="279.0" width="1.8" height="9.0" fill="#ffa0ec"/><rect x="122.6" y="279.0" width="1.8" height="9.0" fill="#ffa0ec"/><rect x="139.1" y="279.0" width="1.8" height="9.0" fill="#ffa0ec"/><rect x="155.6" y="279.0" width="1.8" height="9.0" fill="#ffa0ec"/><rect x="0.0" y="304.0" width="205.0" height="2.0" fill="#fff2fa"/><rect x="3.0" y="310.0" width="205.0" height="1.5" fill="#e6fcfc"/><rect x="-0.4" y="303.9" width="1.8" height="2.2" fill="#ffa0ec"/><rect x="16.2" y="303.9" width="1.8" height="2.2" fill="#ffa0ec"/><rect x="32.8" y="303.9" width="1.8" height="2.2" fill="#ffa0ec"/><rect x="49.4" y="303.9" width="1.8" height="2.2" fill="#ffa0ec"/><rect x="66.0" y="303.9" width="1.8" height="2.2" fill="#ffa0ec"/><rect x="82.6" y="303.9" width="1.8" height="2.2" fill="#ffa0ec"/><rect x="99.2" y="303.9" width="1.8" height="2.2" fill="#ffa0ec"/><rect x="115.8" y="303.9" width="1.8" height="2.2" fill="#ffa0ec"/><rect x="132.4" y="303.9" width="1.8" height="2.2" fill="#ffa0ec"/><rect x="149.0" y="303.9" width="1.8" height="2.2" fill="#ffa0ec"/><rect x="165.6" y="303.9" width="1.8" height="2.2" fill="#ffa0ec"/><rect x="182.2" y="303.9" width="1.8" height="2.2" fill="#ffa0ec"/><rect x="198.8" y="303.9" width="1.8" height="2.2" fill="#ffa0ec"/><text x="72" y="71.6" font-size="4.45" font-weight="bold" fill="#c0f8f4" font-family="Liberation Sans">Production Goal is ach</text><text x="73" y="79.4" font-size="4.45" font-weight="bold" fill="#ffdaf4" font-family="Liberation Sans">The Sustainability of</text><rect x="96.0" y="80.5" width="7.6" height="14.2" fill="#c8f8f8"/><circle cx="100.5" cy="88" r="3" fill="#ffa8ec"/><rect x="392.0" y="32.0" width="8.0" height="5.0" fill="#ffd8ee"/></svg>
</div></body></html>
